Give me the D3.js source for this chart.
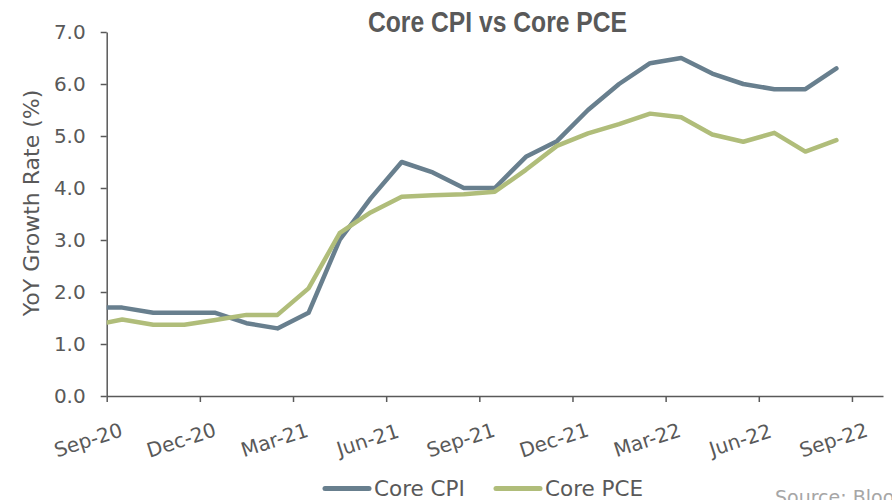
<!DOCTYPE html>
<html>
<head>
<meta charset="utf-8">
<script src="https://cdn.jsdelivr.net/npm/d3@7"></script>
<style>
  body { margin: 0; background: #fff; }
  #vis text { font-family: "DejaVu Sans", sans-serif; fill: #595959; }
  .axis path, .axis line { stroke: #595959; stroke-width: 1.5; }
</style>
</head>
<body>
<div id="vis"></div>
<script>
// Data (monthly YoY %), Aug-20 sits just left of the axis and gets clipped
const months = ['Aug-20','Sep-20','Oct-20','Nov-20','Dec-20','Jan-21','Feb-21','Mar-21','Apr-21','May-21','Jun-21','Jul-21','Aug-21',
                'Sep-21','Oct-21','Nov-21','Dec-21','Jan-22','Feb-22','Mar-22','Apr-22','May-22','Jun-22','Jul-22','Aug-22'];
const coreCPI = [1.7,1.7,1.6,1.6,1.6,1.4,1.3,1.6,3.0,3.8,4.5,4.3,4.0,4.0,4.6,4.9,5.5,6.0,6.4,6.5,6.2,6.0,5.9,5.9,6.3];
const corePCE = [1.35,1.47,1.37,1.37,1.46,1.56,1.56,2.07,3.13,3.53,3.83,3.86,3.88,3.93,4.35,4.81,5.05,5.23,5.43,5.36,5.03,4.89,5.06,4.70,4.92];
const tickLabels = ['Sep-20','Dec-20','Mar-21','Jun-21','Sep-21','Dec-21','Mar-22','Jun-22','Sep-22'];
const yTicks = [0,1,2,3,4,5,6,7];

const seriesNames = ['Core CPI','Core PCE'];
const colors = ['#687f8e','#b0bd7a'];

const margin = {top: 32, right: 9, bottom: 104, left: 106.7};
const width = 892 - margin.left - margin.right;
const height = 500 - margin.top - margin.bottom;

const svg = d3.select('#vis')
    .append('svg')
    .attr('width', 892)
    .attr('height', 500);

const g = svg.append('g')
    .attr('transform', `translate(${margin.left},${margin.top})`);

// month slots: slot 1 = Sep-20 ... slot 25 = Sep-22, points sit mid-slot
const xScale = d3.scaleLinear()
    .domain([1, 26])
    .range([0, width]);

const yScale = d3.scaleLinear()
    .domain([0, 7])
    .range([height, 0]);

// y axis
g.append('g')
    .attr('class', 'axis')
    .call(d3.axisLeft(yScale).tickValues(yTicks).tickSize(6).tickSizeOuter(0).tickPadding(15)
        .tickFormat(d3.format('.1f')))
    .selectAll('text')
    .style('font-size', '20px');

// x axis, ticks every 3 months
const xTickVals = tickLabels.map((d, i) => 1 + i * 3);
const xAxisG = g.append('g')
    .attr('class', 'axis')
    .attr('transform', `translate(0,${height})`)
    .call(d3.axisBottom(xScale).tickValues(xTickVals).tickSize(6).tickSizeOuter(0)
        .tickFormat((d, i) => tickLabels[i]));

xAxisG.selectAll('text')
    .attr('y', 0)
    .attr('dy', '0.35em')
    .attr('text-anchor', 'middle')
    .attr('transform', 'translate(-19,44) rotate(-18)')
    .style('font-size', '20px');

// clip so the Aug-20 lead-in is cut at the y axis
svg.append('clipPath')
    .attr('id', 'plotClip')
    .append('rect')
    .attr('x', 0)
    .attr('y', -20)
    .attr('width', width)
    .attr('height', height + 40);

const line = d3.line()
    .x((d, i) => xScale(i + 0.5))
    .y(d => yScale(d));

[coreCPI, corePCE].forEach((values, k) => {
    g.append('path')
        .datum(values)
        .attr('clip-path', 'url(#plotClip)')
        .attr('fill', 'none')
        .attr('stroke', colors[k])
        .attr('stroke-width', 4.5)
        .attr('stroke-linejoin', 'round')
        .attr('stroke-linecap', 'round')
        .attr('d', line);
});

// y axis title
svg.append('text')
    .attr('transform', 'rotate(-90)')
    .attr('x', -203)
    .attr('y', 39)
    .style('text-anchor', 'middle')
    .style('font-size', '22px')
    .text('YoY Growth Rate (%)');

// chart title
svg.append('text')
    .attr('x', 497.5)
    .attr('y', 31.5)
    .attr('textLength', 259)
    .attr('lengthAdjust', 'spacingAndGlyphs')
    .style('text-anchor', 'middle')
    .style('font-family', '"Liberation Sans Narrow", "Liberation Sans", sans-serif')
    .style('font-weight', 'bold')
    .style('font-size', '30px')
    .text('Core CPI vs Core PCE');

// legend
const legendX = [323, 494];
seriesNames.forEach((name, k) => {
    const lg = svg.append('g').attr('transform', `translate(${legendX[k]},488.5)`);
    lg.append('line')
        .attr('x1', 2).attr('x2', 46)
        .attr('stroke', colors[k])
        .attr('stroke-width', 5)
        .attr('stroke-linecap', 'round');
    lg.append('text')
        .attr('x', 51)
        .attr('y', 7.5)
        .style('font-size', '21.5px')
        .text(name);
});

// source note, cut off by the bottom edge as in the original
svg.append('text')
    .attr('x', 775)
    .attr('y', 504)
    .style('font-size', '19px')
    .style('fill', '#a6a6a6')
    .text('Source: Bloomberg');
</script>
</body>
</html>
